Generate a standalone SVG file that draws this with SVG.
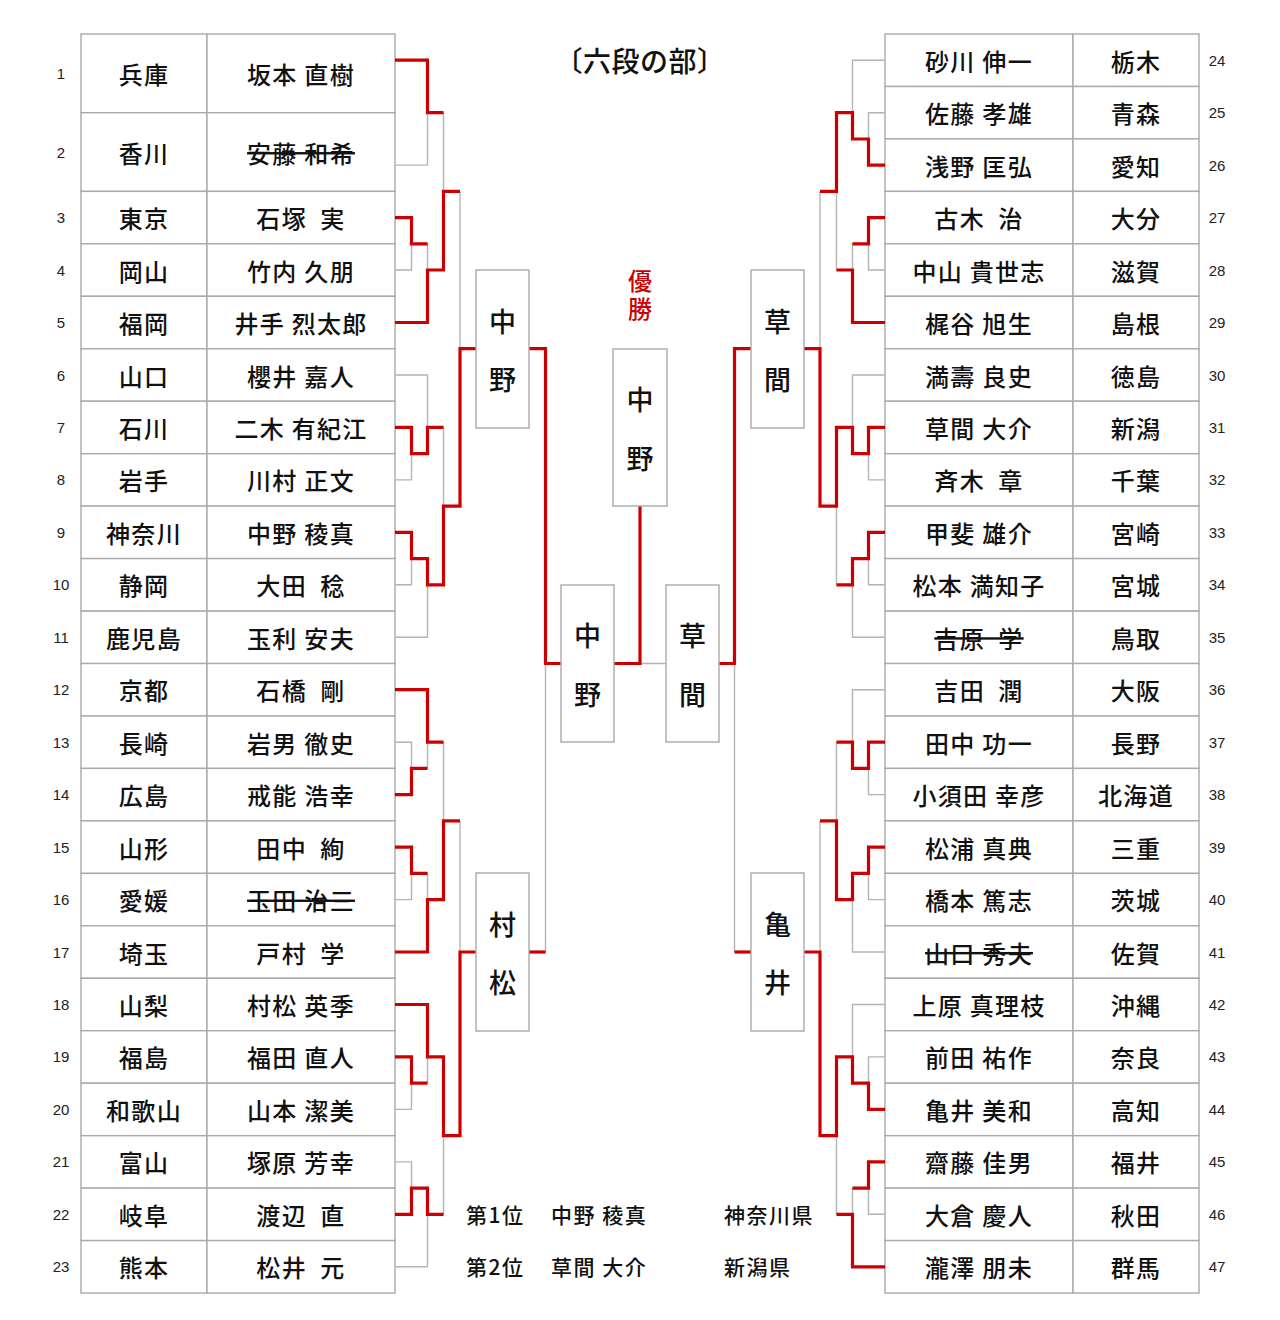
<svg xmlns="http://www.w3.org/2000/svg" width="1280" height="1320" viewBox="0 0 1280 1320">
<style>
.t{font-family:"Noto Sans CJK JP","Noto Sans CJK SC",sans-serif;font-size:24px;font-weight:500;letter-spacing:1.3px;text-anchor:middle;dominant-baseline:central;fill:#111}
.n{font-family:"Liberation Sans",Arial,sans-serif;font-size:15px;text-anchor:middle;dominant-baseline:central;fill:#222}
.s{text-decoration:line-through}
.cell{fill:#fff;stroke:#aaa;stroke-width:1.4}
.bx{fill:#fff;stroke:#aaa;stroke-width:1.4}
.bt{font-family:"Noto Sans CJK JP","Noto Sans CJK SC",sans-serif;font-size:27px;font-weight:500;text-anchor:middle;dominant-baseline:central;fill:#111}
.g{fill:none;stroke:#b4b4b4;stroke-width:1.4}
.r{fill:none;stroke:#cc0000;stroke-width:3.2;stroke-linejoin:miter}
.h{font-family:"Noto Sans CJK JP","Noto Sans CJK SC",sans-serif;font-size:28px;font-weight:500;letter-spacing:0.5px;text-anchor:middle;dominant-baseline:central;fill:#111}
.w{font-family:"Noto Sans CJK JP","Noto Sans CJK SC",sans-serif;font-size:24px;font-weight:500;writing-mode:vertical-rl;letter-spacing:4px;text-anchor:middle;fill:#cc0000}
.b{font-family:"Noto Sans CJK JP","Noto Sans CJK SC",sans-serif;font-size:21px;font-weight:500;letter-spacing:1.5px;dominant-baseline:central;fill:#111}
</style>
<rect width="1280" height="1320" fill="#fff"/>
<text id="title" class="h" x="640" y="60">〔六段の部〕</text>

<g id="left-table">
<g id="p1"><rect class="cell" x="81" y="34" width="126" height="78.7"/><rect class="cell" x="207" y="34" width="188" height="78.7"/><text class="n" x="61" y="73.4">1</text><text class="t" x="144" y="73.4">兵庫</text><text class="t" x="301" y="73.4">坂本 直樹</text></g>
<g id="p2"><rect class="cell" x="81" y="112.7" width="126" height="78.7"/><rect class="cell" x="207" y="112.7" width="188" height="78.7"/><text class="n" x="61" y="152.1">2</text><text class="t" x="144" y="152.1">香川</text><text class="t s" x="301" y="152.1">安藤 和希</text></g>
<g id="p3"><rect class="cell" x="81" y="191.4" width="126" height="52.46"/><rect class="cell" x="207" y="191.4" width="188" height="52.46"/><text class="n" x="61" y="217.6">3</text><text class="t" x="144" y="217.6">東京</text><text class="t" x="301" y="217.6" xml:space="preserve">石塚  実</text></g>
<g id="p4"><rect class="cell" x="81" y="243.8" width="126" height="52.46"/><rect class="cell" x="207" y="243.8" width="188" height="52.46"/><text class="n" x="61" y="270">4</text><text class="t" x="144" y="270">岡山</text><text class="t" x="301" y="270">竹内 久朋</text></g>
<g id="p5"><rect class="cell" x="81" y="296.3" width="126" height="52.46"/><rect class="cell" x="207" y="296.3" width="188" height="52.46"/><text class="n" x="61" y="322.5">5</text><text class="t" x="144" y="322.5">福岡</text><text class="t" x="301" y="322.5">井手 烈太郎</text></g>
<g id="p6"><rect class="cell" x="81" y="348.8" width="126" height="52.46"/><rect class="cell" x="207" y="348.8" width="188" height="52.46"/><text class="n" x="61" y="375">6</text><text class="t" x="144" y="375">山口</text><text class="t" x="301" y="375">櫻井 嘉人</text></g>
<g id="p7"><rect class="cell" x="81" y="401.2" width="126" height="52.46"/><rect class="cell" x="207" y="401.2" width="188" height="52.46"/><text class="n" x="61" y="427.4">7</text><text class="t" x="144" y="427.4">石川</text><text class="t" x="301" y="427.4">二木 有紀江</text></g>
<g id="p8"><rect class="cell" x="81" y="453.7" width="126" height="52.46"/><rect class="cell" x="207" y="453.7" width="188" height="52.46"/><text class="n" x="61" y="479.9">8</text><text class="t" x="144" y="479.9">岩手</text><text class="t" x="301" y="479.9">川村 正文</text></g>
<g id="p9"><rect class="cell" x="81" y="506.1" width="126" height="52.46"/><rect class="cell" x="207" y="506.1" width="188" height="52.46"/><text class="n" x="61" y="532.3">9</text><text class="t" x="144" y="532.3">神奈川</text><text class="t" x="301" y="532.3">中野 稜真</text></g>
<g id="p10"><rect class="cell" x="81" y="558.6" width="126" height="52.46"/><rect class="cell" x="207" y="558.6" width="188" height="52.46"/><text class="n" x="61" y="584.8">10</text><text class="t" x="144" y="584.8">静岡</text><text class="t" x="301" y="584.8" xml:space="preserve">大田  稔</text></g>
<g id="p11"><rect class="cell" x="81" y="611.1" width="126" height="52.46"/><rect class="cell" x="207" y="611.1" width="188" height="52.46"/><text class="n" x="61" y="637.3">11</text><text class="t" x="144" y="637.3">鹿児島</text><text class="t" x="301" y="637.3">玉利 安夫</text></g>
<g id="p12"><rect class="cell" x="81" y="663.5" width="126" height="52.46"/><rect class="cell" x="207" y="663.5" width="188" height="52.46"/><text class="n" x="61" y="689.7">12</text><text class="t" x="144" y="689.7">京都</text><text class="t" x="301" y="689.7" xml:space="preserve">石橋  剛</text></g>
<g id="p13"><rect class="cell" x="81" y="716" width="126" height="52.46"/><rect class="cell" x="207" y="716" width="188" height="52.46"/><text class="n" x="61" y="742.2">13</text><text class="t" x="144" y="742.2">長崎</text><text class="t" x="301" y="742.2">岩男 徹史</text></g>
<g id="p14"><rect class="cell" x="81" y="768.4" width="126" height="52.46"/><rect class="cell" x="207" y="768.4" width="188" height="52.46"/><text class="n" x="61" y="794.6">14</text><text class="t" x="144" y="794.6">広島</text><text class="t" x="301" y="794.6">戒能 浩幸</text></g>
<g id="p15"><rect class="cell" x="81" y="820.9" width="126" height="52.46"/><rect class="cell" x="207" y="820.9" width="188" height="52.46"/><text class="n" x="61" y="847.1">15</text><text class="t" x="144" y="847.1">山形</text><text class="t" x="301" y="847.1" xml:space="preserve">田中  絢</text></g>
<g id="p16"><rect class="cell" x="81" y="873.4" width="126" height="52.46"/><rect class="cell" x="207" y="873.4" width="188" height="52.46"/><text class="n" x="61" y="899.6">16</text><text class="t" x="144" y="899.6">愛媛</text><text class="t s" x="301" y="899.6">玉田 治三</text></g>
<g id="p17"><rect class="cell" x="81" y="925.8" width="126" height="52.46"/><rect class="cell" x="207" y="925.8" width="188" height="52.46"/><text class="n" x="61" y="952">17</text><text class="t" x="144" y="952">埼玉</text><text class="t" x="301" y="952" xml:space="preserve">戸村  学</text></g>
<g id="p18"><rect class="cell" x="81" y="978.3" width="126" height="52.46"/><rect class="cell" x="207" y="978.3" width="188" height="52.46"/><text class="n" x="61" y="1004.5">18</text><text class="t" x="144" y="1004.5">山梨</text><text class="t" x="301" y="1004.5">村松 英季</text></g>
<g id="p19"><rect class="cell" x="81" y="1030.7" width="126" height="52.46"/><rect class="cell" x="207" y="1030.7" width="188" height="52.46"/><text class="n" x="61" y="1056.9">19</text><text class="t" x="144" y="1056.9">福島</text><text class="t" x="301" y="1056.9">福田 直人</text></g>
<g id="p20"><rect class="cell" x="81" y="1083.2" width="126" height="52.46"/><rect class="cell" x="207" y="1083.2" width="188" height="52.46"/><text class="n" x="61" y="1109.4">20</text><text class="t" x="144" y="1109.4">和歌山</text><text class="t" x="301" y="1109.4">山本 潔美</text></g>
<g id="p21"><rect class="cell" x="81" y="1135.7" width="126" height="52.46"/><rect class="cell" x="207" y="1135.7" width="188" height="52.46"/><text class="n" x="61" y="1161.9">21</text><text class="t" x="144" y="1161.9">富山</text><text class="t" x="301" y="1161.9">塚原 芳幸</text></g>
<g id="p22"><rect class="cell" x="81" y="1188.1" width="126" height="52.46"/><rect class="cell" x="207" y="1188.1" width="188" height="52.46"/><text class="n" x="61" y="1214.3">22</text><text class="t" x="144" y="1214.3">岐阜</text><text class="t" x="301" y="1214.3" xml:space="preserve">渡辺  直</text></g>
<g id="p23"><rect class="cell" x="81" y="1240.6" width="126" height="52.46"/><rect class="cell" x="207" y="1240.6" width="188" height="52.46"/><text class="n" x="61" y="1266.8">23</text><text class="t" x="144" y="1266.8">熊本</text><text class="t" x="301" y="1266.8" xml:space="preserve">松井  元</text></g>
</g>

<g id="right-table">
<g id="p24"><rect class="cell" x="885" y="34" width="188" height="52.46"/><rect class="cell" x="1073" y="34" width="126" height="52.46"/><text class="t" x="979" y="60.2">砂川 伸一</text><text class="t" x="1136" y="60.2">栃木</text><text class="n" x="1217" y="60.2">24</text></g>
<g id="p25"><rect class="cell" x="885" y="86.5" width="188" height="52.46"/><rect class="cell" x="1073" y="86.5" width="126" height="52.46"/><text class="t" x="979" y="112.7">佐藤 孝雄</text><text class="t" x="1136" y="112.7">青森</text><text class="n" x="1217" y="112.7">25</text></g>
<g id="p26"><rect class="cell" x="885" y="138.9" width="188" height="52.46"/><rect class="cell" x="1073" y="138.9" width="126" height="52.46"/><text class="t" x="979" y="165.1">浅野 匡弘</text><text class="t" x="1136" y="165.1">愛知</text><text class="n" x="1217" y="165.1">26</text></g>
<g id="p27"><rect class="cell" x="885" y="191.4" width="188" height="52.46"/><rect class="cell" x="1073" y="191.4" width="126" height="52.46"/><text class="t" x="979" y="217.6" xml:space="preserve">古木  治</text><text class="t" x="1136" y="217.6">大分</text><text class="n" x="1217" y="217.6">27</text></g>
<g id="p28"><rect class="cell" x="885" y="243.8" width="188" height="52.46"/><rect class="cell" x="1073" y="243.8" width="126" height="52.46"/><text class="t" x="979" y="270">中山 貴世志</text><text class="t" x="1136" y="270">滋賀</text><text class="n" x="1217" y="270">28</text></g>
<g id="p29"><rect class="cell" x="885" y="296.3" width="188" height="52.46"/><rect class="cell" x="1073" y="296.3" width="126" height="52.46"/><text class="t" x="979" y="322.5">梶谷 旭生</text><text class="t" x="1136" y="322.5">島根</text><text class="n" x="1217" y="322.5">29</text></g>
<g id="p30"><rect class="cell" x="885" y="348.8" width="188" height="52.46"/><rect class="cell" x="1073" y="348.8" width="126" height="52.46"/><text class="t" x="979" y="375">満壽 良史</text><text class="t" x="1136" y="375">徳島</text><text class="n" x="1217" y="375">30</text></g>
<g id="p31"><rect class="cell" x="885" y="401.2" width="188" height="52.46"/><rect class="cell" x="1073" y="401.2" width="126" height="52.46"/><text class="t" x="979" y="427.4">草間 大介</text><text class="t" x="1136" y="427.4">新潟</text><text class="n" x="1217" y="427.4">31</text></g>
<g id="p32"><rect class="cell" x="885" y="453.7" width="188" height="52.46"/><rect class="cell" x="1073" y="453.7" width="126" height="52.46"/><text class="t" x="979" y="479.9" xml:space="preserve">斉木  章</text><text class="t" x="1136" y="479.9">千葉</text><text class="n" x="1217" y="479.9">32</text></g>
<g id="p33"><rect class="cell" x="885" y="506.1" width="188" height="52.46"/><rect class="cell" x="1073" y="506.1" width="126" height="52.46"/><text class="t" x="979" y="532.3">甲斐 雄介</text><text class="t" x="1136" y="532.3">宮崎</text><text class="n" x="1217" y="532.3">33</text></g>
<g id="p34"><rect class="cell" x="885" y="558.6" width="188" height="52.46"/><rect class="cell" x="1073" y="558.6" width="126" height="52.46"/><text class="t" x="979" y="584.8">松本 満知子</text><text class="t" x="1136" y="584.8">宮城</text><text class="n" x="1217" y="584.8">34</text></g>
<g id="p35"><rect class="cell" x="885" y="611.1" width="188" height="52.46"/><rect class="cell" x="1073" y="611.1" width="126" height="52.46"/><text class="t s" x="979" y="637.3" xml:space="preserve">吉原  学</text><text class="t" x="1136" y="637.3">鳥取</text><text class="n" x="1217" y="637.3">35</text></g>
<g id="p36"><rect class="cell" x="885" y="663.5" width="188" height="52.46"/><rect class="cell" x="1073" y="663.5" width="126" height="52.46"/><text class="t" x="979" y="689.7" xml:space="preserve">吉田  潤</text><text class="t" x="1136" y="689.7">大阪</text><text class="n" x="1217" y="689.7">36</text></g>
<g id="p37"><rect class="cell" x="885" y="716" width="188" height="52.46"/><rect class="cell" x="1073" y="716" width="126" height="52.46"/><text class="t" x="979" y="742.2">田中 功一</text><text class="t" x="1136" y="742.2">長野</text><text class="n" x="1217" y="742.2">37</text></g>
<g id="p38"><rect class="cell" x="885" y="768.4" width="188" height="52.46"/><rect class="cell" x="1073" y="768.4" width="126" height="52.46"/><text class="t" x="979" y="794.6">小須田 幸彦</text><text class="t" x="1136" y="794.6">北海道</text><text class="n" x="1217" y="794.6">38</text></g>
<g id="p39"><rect class="cell" x="885" y="820.9" width="188" height="52.46"/><rect class="cell" x="1073" y="820.9" width="126" height="52.46"/><text class="t" x="979" y="847.1">松浦 真典</text><text class="t" x="1136" y="847.1">三重</text><text class="n" x="1217" y="847.1">39</text></g>
<g id="p40"><rect class="cell" x="885" y="873.4" width="188" height="52.46"/><rect class="cell" x="1073" y="873.4" width="126" height="52.46"/><text class="t" x="979" y="899.6">橋本 篤志</text><text class="t" x="1136" y="899.6">茨城</text><text class="n" x="1217" y="899.6">40</text></g>
<g id="p41"><rect class="cell" x="885" y="925.8" width="188" height="52.46"/><rect class="cell" x="1073" y="925.8" width="126" height="52.46"/><text class="t s" x="979" y="952">山口 秀夫</text><text class="t" x="1136" y="952">佐賀</text><text class="n" x="1217" y="952">41</text></g>
<g id="p42"><rect class="cell" x="885" y="978.3" width="188" height="52.46"/><rect class="cell" x="1073" y="978.3" width="126" height="52.46"/><text class="t" x="979" y="1004.5">上原 真理枝</text><text class="t" x="1136" y="1004.5">沖縄</text><text class="n" x="1217" y="1004.5">42</text></g>
<g id="p43"><rect class="cell" x="885" y="1030.7" width="188" height="52.46"/><rect class="cell" x="1073" y="1030.7" width="126" height="52.46"/><text class="t" x="979" y="1056.9">前田 祐作</text><text class="t" x="1136" y="1056.9">奈良</text><text class="n" x="1217" y="1056.9">43</text></g>
<g id="p44"><rect class="cell" x="885" y="1083.2" width="188" height="52.46"/><rect class="cell" x="1073" y="1083.2" width="126" height="52.46"/><text class="t" x="979" y="1109.4">亀井 美和</text><text class="t" x="1136" y="1109.4">高知</text><text class="n" x="1217" y="1109.4">44</text></g>
<g id="p45"><rect class="cell" x="885" y="1135.7" width="188" height="52.46"/><rect class="cell" x="1073" y="1135.7" width="126" height="52.46"/><text class="t" x="979" y="1161.9">齋藤 佳男</text><text class="t" x="1136" y="1161.9">福井</text><text class="n" x="1217" y="1161.9">45</text></g>
<g id="p46"><rect class="cell" x="885" y="1188.1" width="188" height="52.46"/><rect class="cell" x="1073" y="1188.1" width="126" height="52.46"/><text class="t" x="979" y="1214.3">大倉 慶人</text><text class="t" x="1136" y="1214.3">秋田</text><text class="n" x="1217" y="1214.3">46</text></g>
<g id="p47"><rect class="cell" x="885" y="1240.6" width="188" height="52.46"/><rect class="cell" x="1073" y="1240.6" width="126" height="52.46"/><text class="t" x="979" y="1266.8">瀧澤 朋未</text><text class="t" x="1136" y="1266.8">群馬</text><text class="n" x="1217" y="1266.8">47</text></g>
</g>

<g id="connectors">
<path class="g" d="M395,60.2H427.5V165.1H395M427.5,112.7H443.5M395,217.6H411.5V270H395M411.5,243.8H427.5V322.5H395M427.5,270H443.5M443.5,112.7V270M443.5,191.4H460M395,375H427.5V453.7M395,427.4H411.5V479.9H395M411.5,453.7H427.5M427.5,427.4H443.5M395,532.3H411.5V584.8H395M411.5,558.6H427.5V637.3H395M427.5,584.8H443.5M443.5,427.4V584.8M443.5,506.1H460M460,191.4V506.1M460,348.7H476M529,348.7H545.5V952H529M545.5,663.5H561M395,689.7H427.5V768.4M395,742.2H411.5V794.6H395M411.5,768.4H427.5M427.5,742.2H443.5M395,847.1H411.5V899.6H395M411.5,873.3H427.5V952H395M427.5,899.6H443.5M443.5,742.2V899.6M443.5,820.9H460M395,1004.5H427.5V1083.2M395,1056.9H411.5V1109.4H395M411.5,1083.2H427.5M427.5,1056.9H443.5M395,1161.9H411.5V1214.3H395M411.5,1188.1H427.5V1266.8H395M427.5,1214.3H443.5M443.5,1056.9V1214.3M443.5,1135.6H460M460,820.9V1135.6M460,952H476"/>
<path class="g" d="M614,663.5H666M640,663.5V506M719,663.5H734.5M734.5,348.7V952M734.5,348.7H751M734.5,952H751M804,348.7H820M820,191.4V506.1M804,952H820M820,820.9V1135.6"/>
<path class="g" d="M885,60.2H852.5V139M885,112.7H868.5V165.1H885M868.5,139H852.5M852.5,112.7H836.5M885,217.6H868.5V270H885M868.5,243.8H852.5V322.5H885M852.5,270H836.5M836.5,112.7V270M836.5,191.4H820M885,375H852.5V453.7M885,427.4H868.5V479.9H885M868.5,453.7H852.5M852.5,427.4H836.5M885,532.3H868.5V584.8H885M868.5,558.6H852.5V637.3H885M852.5,584.8H836.5M836.5,427.4V584.8M836.5,506.1H820M885,689.7H852.5V768.4M885,742.2H868.5V794.6H885M868.5,768.4H852.5M852.5,742.2H836.5M885,847.1H868.5V899.6H885M868.5,873.3H852.5V952H885M852.5,899.6H836.5M836.5,742.2V899.6M836.5,820.9H820M885,1004.5H852.5V1083.2M885,1056.9H868.5V1109.4H885M868.5,1083.2H852.5M852.5,1056.9H836.5M885,1161.9H868.5V1214.3H885M868.5,1188.1H852.5V1266.8H885M852.5,1214.3H836.5M836.5,1056.9V1214.3M836.5,1135.6H820"/>
<path class="r" d="M395,60.2H427.5V112.7H443.5"/>
<path class="r" d="M395,217.6H411.5V243.8H427.5"/>
<path class="r" d="M395,322.5H427.5V270H443.5V191.4H460"/>
<path class="r" d="M395,427.4H411.5V453.7H427.5V427.4H443.5"/>
<path class="r" d="M395,532.3H411.5V558.6H427.5V584.8H443.5V506.1H460V348.7H476"/>
<path class="r" d="M529,348.7H545.5V663.5H561"/>
<path class="r" d="M614,663.5H640V506"/>
<path class="r" d="M395,689.7H427.5V742.2H443.5"/>
<path class="r" d="M395,794.6H411.5V768.4H427.5"/>
<path class="r" d="M395,847.1H411.5V873.3H427.5"/>
<path class="r" d="M395,952H427.5V899.6H443.5V820.9H460"/>
<path class="r" d="M395,1004.5H427.5V1056.9H443.5V1135.6H460V952H476"/>
<path class="r" d="M529,952H545.5"/>
<path class="r" d="M395,1056.9H411.5V1083.2H427.5"/>
<path class="r" d="M395,1214.3H411.5V1188.1H427.5V1214.3H443.5"/>
<path class="r" d="M885,165.1H868.5V139H852.5V112.7H836.5V191.4H820"/>
<path class="r" d="M885,217.6H868.5V243.8H852.5"/>
<path class="r" d="M885,322.5H852.5V270H836.5"/>
<path class="r" d="M885,427.4H868.5V453.7H852.5V427.4H836.5V506.1H820V348.7H804"/>
<path class="r" d="M751,348.7H734.5V663.5H719"/>
<path class="r" d="M885,532.3H868.5V558.6H852.5V584.8H836.5"/>
<path class="r" d="M885,742.2H868.5V768.4H852.5V742.2H836.5"/>
<path class="r" d="M885,847.1H868.5V873.3H852.5V899.6H836.5V820.9H820"/>
<path class="r" d="M885,1109.4H868.5V1083.2H852.5V1056.9H836.5V1135.6H820V952H804"/>
<path class="r" d="M751,952H734.5"/>
<path class="r" d="M885,1161.9H868.5V1188.1H852.5"/>
<path class="r" d="M885,1266.8H852.5V1214.3H836.5"/>
</g>

<g id="r16-nakano"><rect class="bx" x="476" y="270" width="53" height="158"/><text class="bt" x="502.5" y="320">中</text><text class="bt" x="502.5" y="378">野</text></g>
<g id="r16-muramatsu"><rect class="bx" x="476" y="873" width="53" height="158"/><text class="bt" x="502.5" y="923">村</text><text class="bt" x="502.5" y="981">松</text></g>
<g id="sf-nakano"><rect class="bx" x="561" y="585" width="53" height="157"/><text class="bt" x="587.5" y="634">中</text><text class="bt" x="587.5" y="693">野</text></g>
<g id="champion"><text class="w" x="640" y="297">優勝</text><rect class="bx" x="613" y="349" width="54" height="157"/><text class="bt" x="640" y="398">中</text><text class="bt" x="640" y="457">野</text></g>
<g id="sf-kusama"><rect class="bx" x="666" y="585" width="53" height="157"/><text class="bt" x="692.5" y="634">草</text><text class="bt" x="692.5" y="693">間</text></g>
<g id="r16-kusama"><rect class="bx" x="751" y="270" width="53" height="158"/><text class="bt" x="777.5" y="320">草</text><text class="bt" x="777.5" y="378">間</text></g>
<g id="r16-kamei"><rect class="bx" x="751" y="873" width="53" height="158"/><text class="bt" x="777.5" y="923">亀</text><text class="bt" x="777.5" y="981">井</text></g>

<g id="results">
<text class="b" x="466" y="1214">第1位</text><text class="b" x="551" y="1214">中野 稜真</text><text class="b" x="724" y="1214">神奈川県</text>
<text class="b" x="466" y="1266">第2位</text><text class="b" x="551" y="1266">草間 大介</text><text class="b" x="724" y="1266">新潟県</text>
</g>
</svg>
